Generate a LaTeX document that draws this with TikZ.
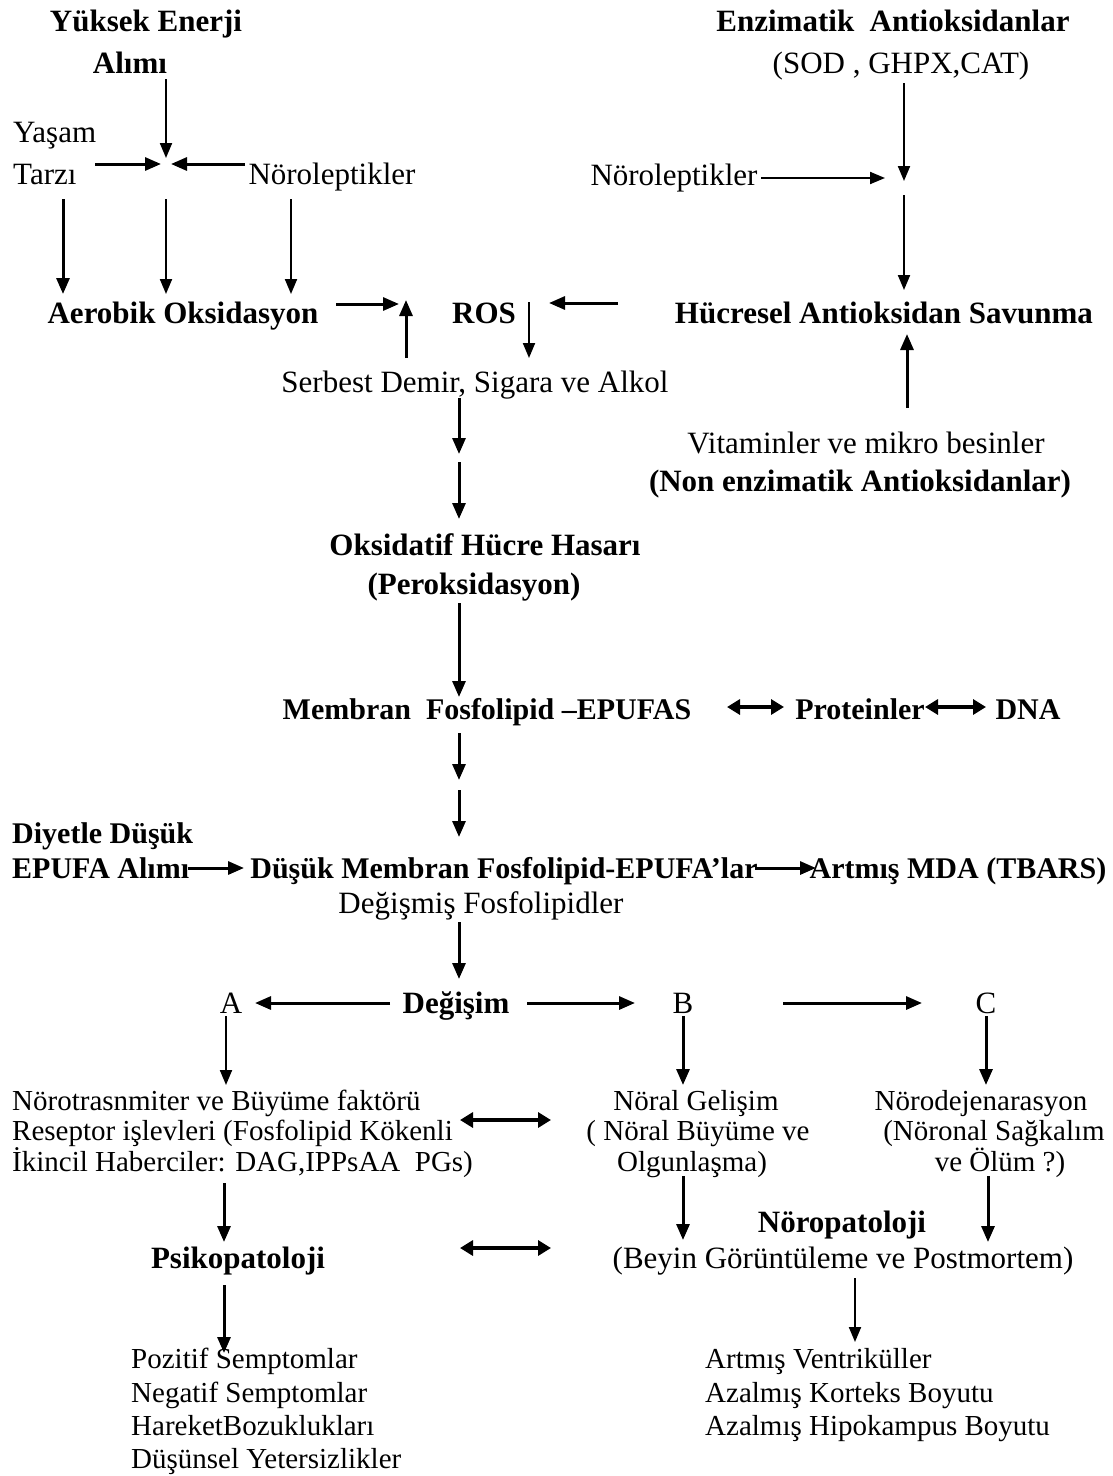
\documentclass[tikz,border=0pt]{standalone}
\usepackage{fontspec}
\setmainfont{Liberation Serif}
\usetikzlibrary{arrows.meta}
\begin{document}
\begin{tikzpicture}[x=1pt,y=-1pt,
  txt/.style={inner sep=0pt, anchor=base, font=\fontsize{31}{36}\selectfont},
  txtb/.style={inner sep=0pt, anchor=base, font=\fontsize{31}{36}\selectfont\bfseries},
  midb/.style={inner sep=0pt, anchor=base, font=\fontsize{30}{35}\selectfont\bfseries},
  sm/.style={inner sep=0pt, anchor=base, font=\fontsize{29}{31}\selectfont},
  arr/.style={line width=3pt, -{Triangle[length=16pt,width=13pt]}},
  arrthin/.style={line width=2pt, -{Triangle[length=15pt,width=12pt]}},
  dbl/.style={line width=3.2pt, {Triangle[length=13pt,width=15pt]}-{Triangle[length=13pt,width=15pt]}}]
\useasboundingbox (0,0) rectangle (1112,1476);
\fill[white] (0,0) rectangle (1112,1476);

% ---------- top left ----------
\node[txtb] (yuksek) at (146,31) {Yüksek Enerji};
\node[txtb] (alimi) at (130,73) {Alımı};
\node[txt,anchor=base west] (yasam) at (13,142) {Yaşam};
\node[txt,anchor=base west] (tarzi) at (13,184) {Tarzı};
\node[txt] (norolA) at (332,184) {Nöroleptikler};
\node[txtb] (aerobik) at (183,323) {Aerobik Oksidasyon};

\coordinate (alS) at (166,79);
\coordinate (jTop) at (166,158);
\coordinate (tzS) at (95,164);
\coordinate (jLeft) at (161,164);
\coordinate (nlS) at (245,164);
\coordinate (jRight) at (171,164);
\coordinate (d1s) at (63,199);   \coordinate (d1e) at (63,294);
\coordinate (d2s) at (166,199);  \coordinate (d2e) at (166,294);
\coordinate (d3s) at (291,199);  \coordinate (d3e) at (291,294);

\draw[arrthin] (alS) -- (jTop);
\draw[arr] (tzS) -- (jLeft);
\draw[arr] (nlS) -- (jRight);
\draw[arr] (d1s) -- (d1e);
\draw[arrthin] (d2s) -- (d2e);
\draw[arrthin] (d3s) -- (d3e);

% ---------- ROS row ----------
\node[txtb] (ros) at (484,323) {ROS};
\node[txtb] (hucresel) at (884,323) {Hücresel Antioksidan Savunma};
\node[txt] (serbest) at (475,392) {Serbest Demir, Sigara ve Alkol};

\coordinate (r1s) at (336,304);  \coordinate (r1e) at (399,304);
\coordinate (u1s) at (406,358);  \coordinate (u1e) at (406,300);
\coordinate (r2s) at (529,302);  \coordinate (r2e) at (529,358);
\coordinate (r3s) at (618,303);  \coordinate (r3e) at (549,303);
\draw[arr] (r1s) -- (r1e);
\draw[arr] (u1s) -- (u1e);
\draw[arrthin] (r2s) -- (r2e);
\draw[arr] (r3s) -- (r3e);

\coordinate (s1s) at (459,398);  \coordinate (s1e) at (459,454);
\coordinate (s2s) at (459,462);  \coordinate (s2e) at (459,519);
\draw[arr] (s1s) -- (s1e);
\draw[arr] (s2s) -- (s2e);

\node[txtb] (oksidatif) at (485,555) {Oksidatif Hücre Hasarı};
\node[txtb] (perok) at (474,594) {(Peroksidasyon)};
\coordinate (o1s) at (459,603);  \coordinate (o1e) at (459,697);
\draw[arr] (o1s) -- (o1e);

% ---------- top right ----------
\node[txtb] (enzim) at (893,31) {Enzimatik\ \ Antioksidanlar};
\node[txt] (sod) at (901,73) {(SOD , GHPX,CAT)};
\node[txt] (norolB) at (674,185) {Nöroleptikler};
\node[txt] (vitamin) at (866,453) {Vitaminler ve mikro besinler};
\node[txtb] (nonenz) at (860,491) {(Non enzimatik Antioksidanlar)};

\coordinate (e1s) at (904,83);   \coordinate (e1e) at (904,181);
\coordinate (nbs) at (761,178);  \coordinate (nbe) at (885,178);
\coordinate (e2s) at (904,195);  \coordinate (e2e) at (904,290);
\coordinate (v1s) at (907,408);  \coordinate (v1e) at (907,334);
\draw[arrthin] (e1s) -- (e1e);
\draw[arrthin] (nbs) -- (nbe);
\draw[arrthin] (e2s) -- (e2e);
\draw[arr] (v1s) -- (v1e);

% ---------- membrane ----------
\node[midb] (membran) at (487,719) {Membran\ \ Fosfolipid –EPUFAS};
\node[midb] (protein) at (860,719) {Proteinler};
\node[midb] (dna) at (1028,719) {DNA};
\coordinate (p1a) at (727,707);  \coordinate (p1b) at (784,707);
\coordinate (p2a) at (925,707);  \coordinate (p2b) at (986,707);
\draw[dbl] (p1a) -- (p1b);
\draw[dbl] (p2a) -- (p2b);

\coordinate (m1s) at (459,733);  \coordinate (m1e) at (459,780);
\coordinate (m2s) at (459,790);  \coordinate (m2e) at (459,837);
\draw[arr] (m1s) -- (m1e);
\draw[arr] (m2s) -- (m2e);

\node[midb,anchor=base west] (diyet1) at (12,843) {Diyetle Düşük};
\node[midb,anchor=base west] (diyet2) at (12,878) {EPUFA Alımı};
\node[midb] (dusuk) at (504,878) {Düşük Membran Fosfolipid-EPUFA’lar};
\node[midb] (mda) at (958,878) {Artmış MDA (TBARS)};
\node[txt] (degismis) at (481,913) {Değişmiş Fosfolipidler};

\coordinate (q1s) at (188,868);  \coordinate (q1e) at (244,868);
\coordinate (q2s) at (755,868);  \coordinate (q2e) at (816,868);
\draw[arr] (q1s) -- (q1e);
\draw[arr] (q2s) -- (q2e);
\coordinate (f1s) at (459,922);  \coordinate (f1e) at (459,979);
\draw[arr] (f1s) -- (f1e);

% ---------- A B C ----------
\node[txt] (A) at (231,1013) {A};
\node[txtb] (degisim) at (456,1013) {Değişim};
\node[txt] (B) at (683,1013) {B};
\node[txt] (C) at (986,1013) {C};
\coordinate (g1s) at (390,1003); \coordinate (g1e) at (255,1003);
\coordinate (g2s) at (527,1003); \coordinate (g2e) at (635,1003);
\coordinate (g3s) at (783,1003); \coordinate (g3e) at (922,1003);
\draw[arr] (g1s) -- (g1e);
\draw[arr] (g2s) -- (g2e);
\draw[arr] (g3s) -- (g3e);

\coordinate (hAs) at (226,1016); \coordinate (hAe) at (226,1085);
\coordinate (hBs) at (683,1016); \coordinate (hBe) at (683,1085);
\coordinate (hCs) at (986,1016); \coordinate (hCe) at (986,1085);
\draw[arrthin] (hAs) -- (hAe);
\draw[arr] (hBs) -- (hBe);
\draw[arr] (hCs) -- (hCe);

\node[sm,anchor=base west] (a1) at (12,1110) {Nörotrasnmiter ve Büyüme faktörü};
\node[sm,anchor=base west] (a2) at (12,1140) {Reseptor işlevleri (Fosfolipid Kökenli};
\node[sm,anchor=base west] (a3) at (12,1171) {İkincil Haberciler: DAG,IPPsAA\ \ PGs)};
\node[sm] (b1) at (696,1110) {Nöral Gelişim};
\node[sm] (b2) at (698,1140) {( Nöral Büyüme ve};
\node[sm] (b3) at (692,1171) {Olgunlaşma)};
\node[sm] (c1) at (981,1110) {Nörodejenarasyon};
\node[sm] (c2) at (994,1140) {(Nöronal Sağkalım};
\node[sm] (c3) at (1000,1171) {ve Ölüm ?)};

\coordinate (k1a) at (460,1120); \coordinate (k1b) at (551,1120);
\coordinate (k2a) at (460,1248); \coordinate (k2b) at (551,1248);
\draw[dbl] (k1a) -- (k1b);
\draw[dbl] (k2a) -- (k2b);

\coordinate (iAs) at (224,1183); \coordinate (iAe) at (224,1242);
\coordinate (iBs) at (683,1176); \coordinate (iBe) at (683,1240);
\coordinate (iCs) at (988,1176); \coordinate (iCe) at (988,1242);
\draw[arr] (iAs) -- (iAe);
\draw[arr] (iBs) -- (iBe);
\draw[arr] (iCs) -- (iCe);

\node[txtb] (psiko) at (238,1268) {Psikopatoloji};
\node[txtb] (noropat) at (842,1232) {Nöropatoloji};
\node[txt] (beyin) at (843,1268) {(Beyin Görüntüleme ve Postmortem)};

\coordinate (jAs) at (224,1285); \coordinate (jAe) at (224,1353);
\coordinate (jBs) at (855,1278); \coordinate (jBe) at (855,1342);
\draw[arr] (jAs) -- (jAe);
\draw[arrthin] (jBs) -- (jBe);

\node[sm,anchor=base west] (l1) at (131,1368) {Pozitif Semptomlar};
\node[sm,anchor=base west] (l2) at (131,1402) {Negatif Semptomlar};
\node[sm,anchor=base west] (l3) at (131,1435) {HareketBozuklukları};
\node[sm,anchor=base west] (l4) at (131,1468) {Düşünsel Yetersizlikler};
\node[sm,anchor=base west] (r1) at (705,1368) {Artmış Ventriküller};
\node[sm,anchor=base west] (r2) at (705,1402) {Azalmış Korteks Boyutu};
\node[sm,anchor=base west] (r3) at (705,1435) {Azalmış Hipokampus Boyutu};
\end{tikzpicture}
\end{document}
